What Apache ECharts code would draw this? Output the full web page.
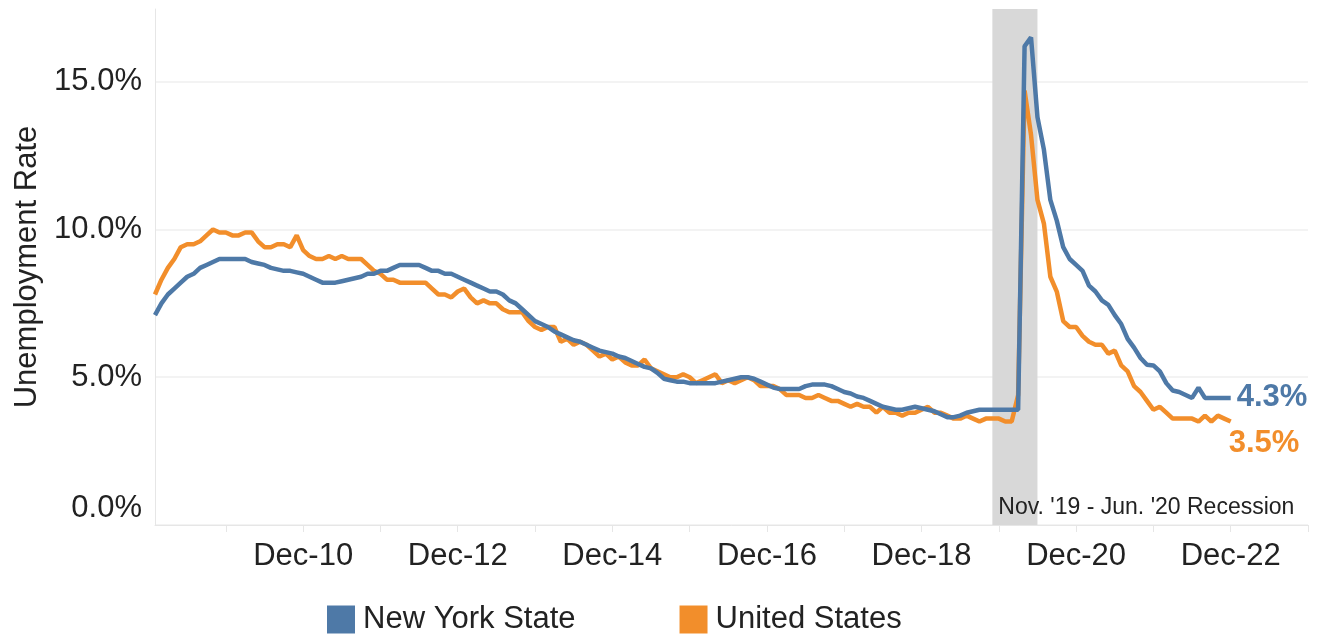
<!DOCTYPE html>
<html>
<head>
<meta charset="utf-8">
<script src="https://cdn.jsdelivr.net/npm/echarts@6/dist/echarts.min.js"></script>
<style>
  html, body { margin: 0; padding: 0; background: #fff; }
  #chart { width: 1320px; height: 635px; }
</style>
</head>
<body>
<div id="chart"></div>
<script>
// 月份 / 年份 (x轴类别)
var monthNames = ['Jan','Feb','Mar','Apr','May','Jun','Jul','Aug','Sep','Oct','Nov','Dec'];
var years = ['09','10','11','12','13','14','15','16','17','18','19','20','21','22','23'];

// New York State unemployment rate, %
var ny2009 = [7.1, 7.5, 7.8, 8.0, 8.2, 8.4, 8.5, 8.7, 8.8, 8.9, 9.0, 9.0];
var ny2010 = [9.0, 9.0, 9.0, 8.9, 8.85, 8.8, 8.7, 8.65, 8.6, 8.6, 8.55, 8.5];
var ny2011 = [8.4, 8.3, 8.2, 8.2, 8.2, 8.25, 8.3, 8.35, 8.4, 8.5, 8.5, 8.6];
var ny2012 = [8.6, 8.7, 8.8, 8.8, 8.8, 8.8, 8.7, 8.6, 8.6, 8.5, 8.5, 8.4];
var ny2013 = [8.3, 8.2, 8.1, 8.0, 7.9, 7.9, 7.8, 7.6, 7.5, 7.3, 7.1, 6.9];
var ny2014 = [6.8, 6.7, 6.55, 6.45, 6.35, 6.25, 6.2, 6.1, 6.0, 5.9, 5.85, 5.8];
var ny2015 = [5.7, 5.65, 5.55, 5.45, 5.35, 5.3, 5.15, 4.95, 4.9, 4.85, 4.85, 4.8];
var ny2016 = [4.8, 4.8, 4.8, 4.8, 4.85, 4.9, 4.95, 5.0, 5.0, 4.95, 4.85, 4.75];
var ny2017 = [4.65, 4.6, 4.6, 4.6, 4.6, 4.7, 4.75, 4.75, 4.75, 4.7, 4.6, 4.5];
var ny2018 = [4.45, 4.35, 4.3, 4.2, 4.1, 4.0, 3.95, 3.9, 3.9, 3.95, 4.0, 3.95];
var ny2019 = [3.9, 3.85, 3.75, 3.65, 3.65, 3.7, 3.8, 3.85, 3.9, 3.9, 3.9, 3.9];
var ny2020 = [3.9, 3.9, 3.9, 16.2, 16.5, 13.8, 12.7, 11.0, 10.3, 9.4, 9.0, 8.8];
var ny2021 = [8.6, 8.1, 7.9, 7.6, 7.45, 7.1, 6.8, 6.3, 6.0, 5.65, 5.42, 5.4];
var ny2022 = [5.2, 4.8, 4.55, 4.5, 4.4, 4.3, 4.65, 4.3, 4.3, 4.3, 4.3, 4.3];

// United States unemployment rate, %
var us2009 = [7.8, 8.3, 8.7, 9.0, 9.4, 9.5, 9.5, 9.6, 9.8, 10.0, 9.9, 9.9];
var us2010 = [9.8, 9.8, 9.9, 9.9, 9.6, 9.4, 9.4, 9.5, 9.5, 9.4, 9.8, 9.3];
var us2011 = [9.1, 9.0, 9.0, 9.1, 9.0, 9.1, 9.0, 9.0, 9.0, 8.8, 8.6, 8.5];
var us2012 = [8.3, 8.3, 8.2, 8.2, 8.2, 8.2, 8.2, 8.0, 7.8, 7.8, 7.7, 7.9];
var us2013 = [8.0, 7.7, 7.5, 7.6, 7.5, 7.5, 7.3, 7.2, 7.2, 7.2, 6.9, 6.7];
var us2014 = [6.6, 6.7, 6.7, 6.2, 6.3, 6.1, 6.2, 6.1, 5.9, 5.7, 5.8, 5.6];
var us2015 = [5.7, 5.5, 5.4, 5.4, 5.6, 5.3, 5.2, 5.1, 5.0, 5.0, 5.1, 5.0];
var us2016 = [4.8, 4.9, 5.0, 5.1, 4.8, 4.9, 4.8, 4.9, 5.0, 4.9, 4.7, 4.7];
var us2017 = [4.7, 4.6, 4.4, 4.4, 4.4, 4.3, 4.3, 4.4, 4.3, 4.2, 4.2, 4.1];
var us2018 = [4.0, 4.1, 4.0, 4.0, 3.8, 4.0, 3.8, 3.8, 3.7, 3.8, 3.8, 3.9];
var us2019 = [4.0, 3.8, 3.8, 3.7, 3.6, 3.6, 3.7, 3.6, 3.5, 3.6, 3.6, 3.6];
var us2020 = [3.5, 3.5, 4.4, 14.7, 13.2, 11.0, 10.2, 8.4, 7.9, 6.9, 6.7, 6.7];
var us2021 = [6.4, 6.2, 6.1, 6.1, 5.8, 5.9, 5.4, 5.2, 4.7, 4.5, 4.2, 3.9];
var us2022 = [4.0, 3.8, 3.6, 3.6, 3.6, 3.6, 3.5, 3.7, 3.5, 3.7, 3.6, 3.5];

// 衰退期
var recession = ['Nov-19', 'Jun-20'];
var recessionText = "Nov. '19 - Jun. '20 Recession";

var categories = [];
years.forEach(function(y) {
    monthNames.forEach(function(m) { categories.push(m + '-' + y); });
});

var nyData = [].concat(ny2009, ny2010, ny2011, ny2012, ny2013, ny2014, ny2015,
    ny2016, ny2017, ny2018, ny2019, ny2020, ny2021, ny2022);
var usData = [].concat(us2009, us2010, us2011, us2012, us2013, us2014, us2015,
    us2016, us2017, us2018, us2019, us2020, us2021, us2022);

var FONT = "'Liberation Sans', Arial, sans-serif";
var TXT = '#222';
var BLUE = '#4e79a7';
var ORANGE = '#f28e2b';

function isEvenDec(val) {
    return val.indexOf('Dec') === 0 && parseInt(val.slice(4), 10) % 2 === 0;
}

var chart = echarts.init(document.getElementById('chart'));
chart.setOption({
    animation: false,
    grid: { left: 155, right: 12, top: 9, bottom: 110 },
    legend: {
        data: ['New York State', 'United States'],
        left: 322,
        top: 599,
        icon: 'rect',
        itemWidth: 28,
        itemHeight: 28,
        itemGap: 104,
        textStyle: { fontFamily: FONT, fontSize: 31, color: TXT, padding: [0, 0, 0, 3] }
    },
    xAxis: {
        type: 'category',
        data: categories,
        boundaryGap: false,
        axisLine: { lineStyle: { color: '#e6e6e6', width: 1 } },
        axisTick: {
            interval: function(idx, val) { return val.indexOf('Dec') === 0; },
            length: 7,
            lineStyle: { color: '#e6e6e6' }
        },
        axisLabel: {
            interval: function(idx, val) { return isEvenDec(val); },
            fontFamily: FONT,
            fontSize: 31,
            color: TXT,
            margin: 16
        },
        splitLine: { show: false }
    },
    yAxis: {
        type: 'value',
        min: 0,
        max: 17.46,
        interval: 5,
        name: 'Unemployment Rate',
        nameLocation: 'middle',
        nameGap: 111,
        nameTextStyle: { fontFamily: FONT, fontSize: 31, color: TXT },
        axisLine: { show: true, lineStyle: { color: '#e6e6e6' } },
        axisTick: { show: false },
        axisLabel: {
            showMaxLabel: false,
            margin: 13,
            fontFamily: FONT,
            fontSize: 31,
            color: TXT,
            formatter: function(v) {
                if (v % 5 !== 0) return '';
                if (v === 0) return '{z|0.0%}';
                return v.toFixed(1) + '%';
            },
            rich: {
                z: { fontFamily: FONT, fontSize: 31, color: TXT, padding: [0, 0, 34, 0] }
            }
        },
        splitLine: { showMaxLine: false, lineStyle: { color: '#efefef', width: 1.5 } }
    },
    series: [
        {
            // 衰退期阴影
            name: 'recession',
            type: 'line',
            data: [],
            z: -1,
            silent: true,
            markArea: {
                silent: true,
                itemStyle: { color: '#d8d8d8' },
                label: {
                    show: true,
                    position: 'insideBottomLeft',
                    distance: 6,
                    formatter: recessionText,
                    fontFamily: FONT,
                    fontSize: 23,
                    color: TXT
                },
                data: [[{ xAxis: recession[0] }, { xAxis: recession[1] }]]
            }
        },
        {
            name: 'United States',
            type: 'line',
            data: usData,
            showSymbol: false,
            symbol: 'none',
            color: ORANGE,
            lineStyle: { width: 4.5, color: ORANGE },
            endLabel: {
                show: true,
                offset: [-10, 22],
                formatter: function(p) { return p.value.toFixed(1) + '%'; },
                fontFamily: FONT,
                fontSize: 31,
                fontWeight: 'bold',
                color: ORANGE
            }
        },
        {
            name: 'New York State',
            type: 'line',
            data: nyData,
            showSymbol: false,
            symbol: 'none',
            color: BLUE,
            lineStyle: { width: 4.5, color: BLUE },
            endLabel: {
                show: true,
                offset: [-2, 0],
                formatter: function(p) { return p.value.toFixed(1) + '%'; },
                fontFamily: FONT,
                fontSize: 31,
                fontWeight: 'bold',
                color: BLUE
            }
        }
    ]
});
</script>
</body>
</html>
